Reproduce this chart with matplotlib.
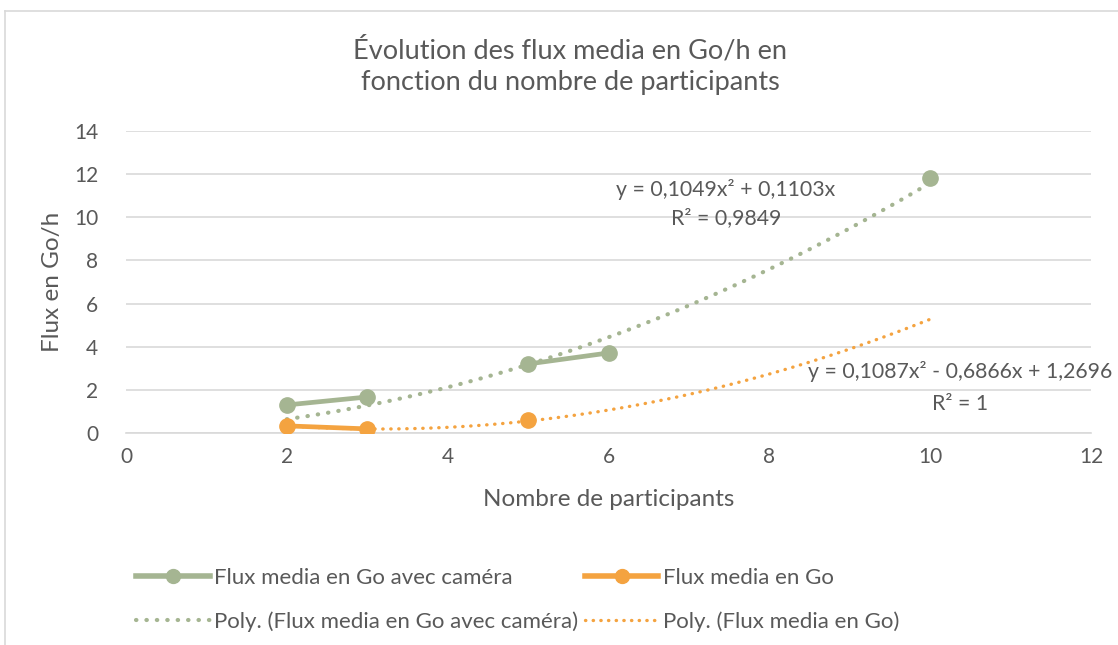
import numpy as np
import matplotlib
matplotlib.use('Agg')
import matplotlib.pyplot as plt
from matplotlib.lines import Line2D

plt.rcParams['font.family'] = ['Lato', 'DejaVu Sans']

# data
participants_cam = [2, 3, 5, 6, 10]
flux_cam = [1.3, 1.67, 3.2, 3.71, 11.8]
cam_segments = [[0, 1], [2, 3], [4]]   # points joined in the original

participants = [2, 3, 5]
flux = [0.33, 0.19, 0.6]
flux_segments = [[0, 1], [2]]

# trendline coefficients shown on the chart
poly_cam = [0.1049, 0.1103, 0.0]
poly_flux = [0.1087, -0.6866, 1.2696]

green = '#A5B592'
orange = '#F4A340'
text_col = '#595959'
grid_col = '#D9D9D9'

fig = plt.figure(figsize=(11.18, 6.45), dpi=100)
ax = fig.add_axes([0.1127, 0.3287, 0.8632, 0.4682])

# trendlines
xs = np.linspace(2, 10, 200)
ax.plot(xs, np.polyval(poly_cam, xs), color=green, lw=3.0,
        linestyle=(0, (0.1, 2.4)), dash_capstyle='round', zorder=2)
ax.plot(xs, np.polyval(poly_flux, xs), color=orange, lw=2.4,
        linestyle=(0, (0.1, 2.3)), dash_capstyle='round', zorder=2)

# data series (line broken where the original has gaps)
for seg in cam_segments:
    ax.plot([participants_cam[i] for i in seg], [flux_cam[i] for i in seg],
            color=green, lw=3.4, marker='o', ms=11, solid_capstyle='round', zorder=3)
for seg in flux_segments:
    ax.plot([participants[i] for i in seg], [flux[i] for i in seg],
            color=orange, lw=3.4, marker='o', ms=11, solid_capstyle='round', zorder=3)

ax.set_xlim(0, 12)
ax.set_ylim(0, 14)
ax.set_xticks(range(0, 13, 2))
ax.set_yticks(range(0, 15, 2))
ax.grid(axis='y', color=grid_col, lw=1.2)
ax.set_axisbelow(True)
for s in ['left', 'right', 'top']:
    ax.spines[s].set_visible(False)
ax.spines['bottom'].set_color(grid_col)
ax.spines['bottom'].set_linewidth(1.2)
ax.tick_params(length=0, labelsize=15, colors=text_col, pad=10)
ax.tick_params(axis='y', pad=20)

ax.set_xlabel('Nombre de participants', fontsize=17.5, color=text_col, labelpad=16)
ax.set_ylabel('Flux en Go/h', fontsize=17.5, color=text_col, labelpad=8)

ax.text(7.46, 11.27, 'y = 0,1049x² + 0,1103x', fontsize=15.3, color=text_col,
        ha='center', va='center')
ax.text(7.46, 9.97, 'R² = 0,9849', fontsize=15.3, color=text_col,
        ha='center', va='center')
ax.text(10.37, 2.83, 'y = 0,1087x² - 0,6866x + 1,2696', fontsize=15.3, color=text_col,
        ha='center', va='center')
ax.text(10.37, 1.34, 'R² = 1', fontsize=15.3, color=text_col,
        ha='center', va='center')

fig.text(0.51, 0.898, 'Évolution des flux media en Go/h en\nfonction du nombre de participants',
         fontsize=19.5, color=text_col, ha='center', va='center', linespacing=1.35)

handles = [
    Line2D([], [], color=green, lw=4, marker='o', ms=10),
    Line2D([], [], color=green, lw=3, linestyle=(0, (0.1, 2.4)), dash_capstyle='round'),
    Line2D([], [], color=orange, lw=4, marker='o', ms=10),
    Line2D([], [], color=orange, lw=2.4, linestyle=(0, (0.1, 2.2)), dash_capstyle='round'),
]
labels = ['Flux media en Go avec caméra', 'Poly. (Flux media en Go avec caméra)',
          'Flux media en Go', 'Poly. (Flux media en Go)']
leg = fig.legend(handles, labels, ncol=2, loc='upper left', bbox_to_anchor=(0.112, 0.137),
                 frameon=False, fontsize=16, handlelength=3.3, handletextpad=0.2,
                 columnspacing=0.3, labelspacing=1.05, borderpad=0)
for t in leg.get_texts():
    t.set_color(text_col)

# outer chart frame (top and left edges visible)
fig.add_artist(Line2D([0.0045, 1.0], [0.983, 0.983], color=grid_col, lw=1.2))
fig.add_artist(Line2D([0.0045, 0.0045], [0.0, 0.983], color=grid_col, lw=1.2))

fig.savefig('out.png', dpi=100)
